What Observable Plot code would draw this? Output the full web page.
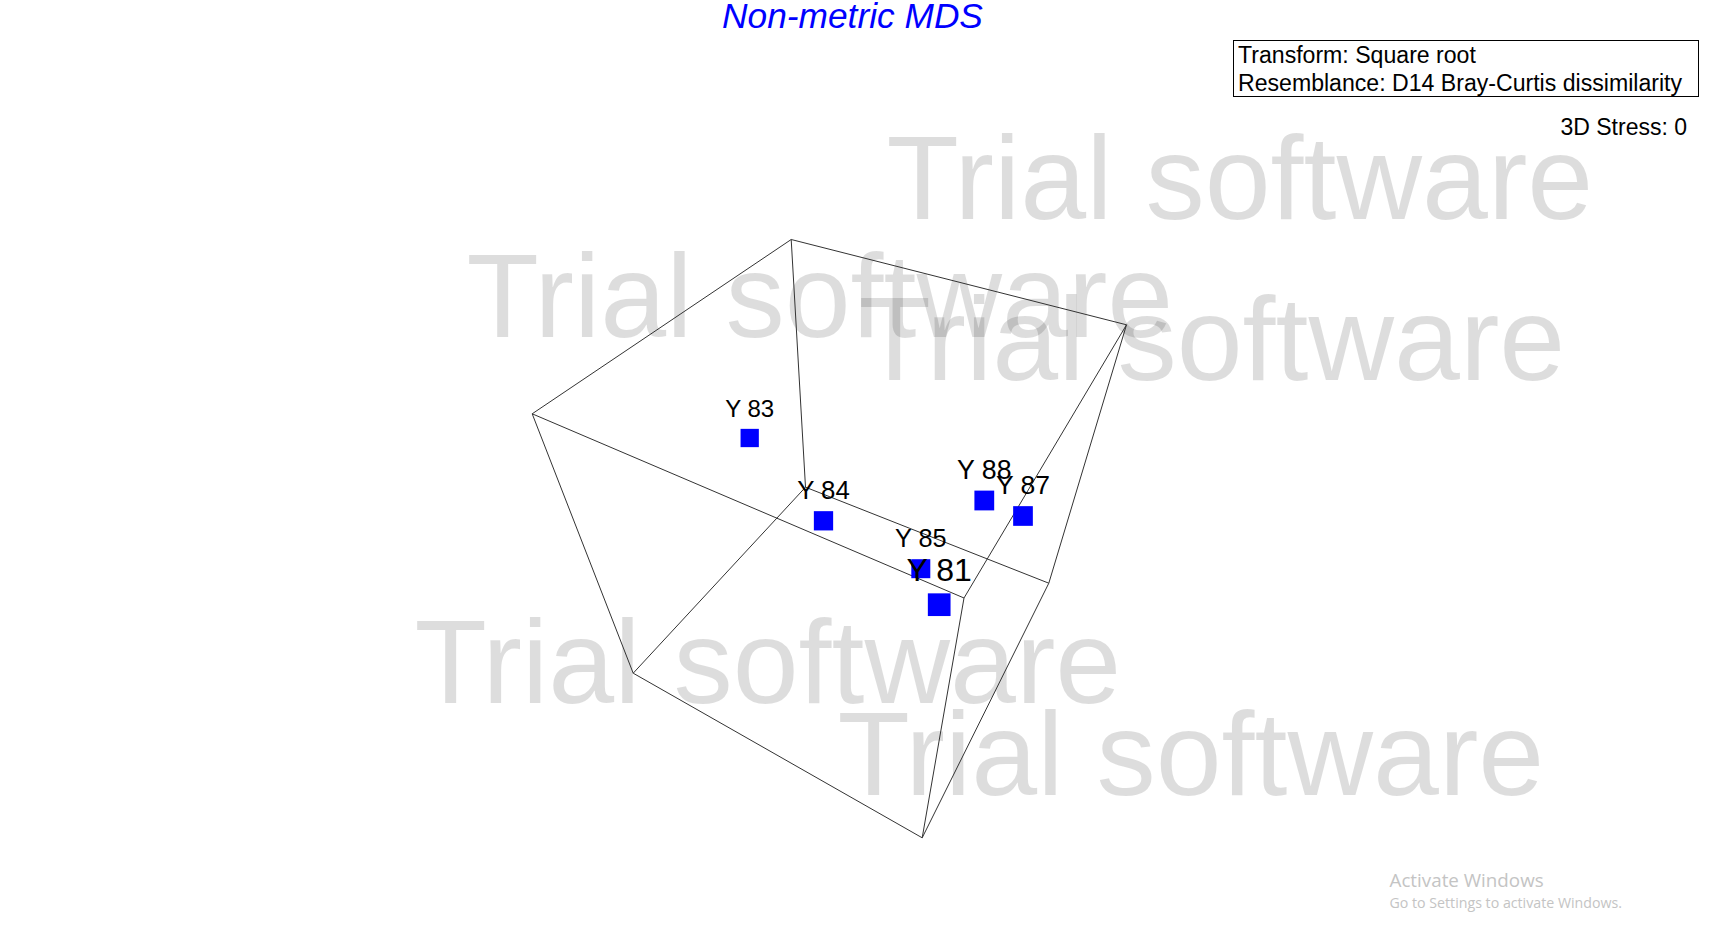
<!DOCTYPE html>
<html>
<head>
<meta charset="utf-8">
<script src="https://cdn.jsdelivr.net/npm/d3@7"></script>
<script src="https://cdn.jsdelivr.net/npm/@observablehq/plot@0.6"></script>
<style>
  html, body { margin: 0; padding: 0; background: #fff; overflow: hidden; }
  #wrap { position: relative; width: 1710px; height: 939px; }
  #box { position: absolute; left: 1233px; top: 40px; width: 466px; height: 57px;
         border: 1px solid #000; box-sizing: border-box; pointer-events: none; }
  svg { position: absolute; left: 0; top: 0; }
</style>
</head>
<body>
<div id="wrap"></div>
<script>
// ---- Data (projected MDS coordinates of the 3D ordination) ----
const samples = ["Y 81", "Y 83", "Y 84", "Y 85", "Y 87", "Y 88"];
const mds1 = [1.087, -0.808, -0.070, 0.903, 1.925, 1.538];   // horizontal (projected)
const mds2 = [-0.642, 1.025, 0.197, -0.282, 0.245, 0.400];   // vertical (projected)
const mds3 = [1.00, -1.00, -0.55, -0.68, -0.36, -0.32];       // depth toward viewer

// bounding cube of the 3D ordination, projected
const vertexNames = ["A", "B", "C", "D", "E", "G", "H", "I"];
const vertexX = [-0.393, 2.960, -2.983, -0.250, -1.973, 2.183, 1.335, 0.917];
const vertexY = [3.010, 2.157, 1.267, 0.533, -1.327, -0.427, -0.575, -2.973];
const edgeFrom = ["A", "A", "A", "C", "C", "H", "H", "B", "D", "D", "E", "G"];
const edgeTo   = ["B", "C", "D", "H", "E", "B", "I", "G", "G", "E", "I", "I"];

// texts
const titleText = "Non-metric MDS";
const infoLines = ["Transform: Square root", "Resemblance: D14 Bray-Curtis dissimilarity"];
const stressText = "3D Stress: 0";
const watermark = "Trial software";

// ---- Build tables ----
const points = samples.map((s, i) => ({label: s, x: mds1[i], y: mds2[i], z: mds3[i]}));
const vIndex = new Map(vertexNames.map((n, i) => [n, i]));
const edges = edgeFrom.map((f, i) => {
  const a = vIndex.get(f), b = vIndex.get(edgeTo[i]);
  return {x1: vertexX[a], y1: vertexY[a], x2: vertexX[b], y2: vertexY[b]};
});

// perspective: nearer samples drawn bigger
const depthDomain = [-1, 1];
const rRange = [10.32, 12.81];
const rByDepth = d3.scaleLinear(depthDomain, rRange);
const fontByDepth = d3.scaleLinear(depthDomain, [24, 32]);

const FONT = "'Liberation Sans', Arial, sans-serif";
const WFONT = "'Open Sans', 'Noto Sans', sans-serif";
const wm = (dx, dy) => Plot.text([watermark], {
  frameAnchor: "top-left", dx, dy, lineAnchor: "bottom", textAnchor: "start",
  fontSize: 118.5, fontFamily: FONT, fill: "#000", fillOpacity: 0.135
});
const note = (t, dx, dy, opts) => Plot.text([t], {frameAnchor: "top-left", dx, dy, lineAnchor: "bottom", ...opts});

// one label mark per sample so the gap above each square follows its size
const labelMarks = points.map(p => {
  const half = rByDepth(p.z) * Math.sqrt(Math.PI) / 2;
  const fs = fontByDepth(p.z);
  return Plot.text([p], {x: "x", y: "y", text: "label", dy: -(half + 11.6 + (fs - 24) * 0.15),
    lineAnchor: "bottom", textAnchor: "middle", fill: "#000", fontFamily: FONT, fontSize: fs});
});

const chart = Plot.plot({
  width: 1710,
  height: 939,
  margin: 0,
  x: {domain: [-8.30, 8.80], range: [0, 1710], axis: null},
  y: {domain: [-3.99, 5.40], range: [939, 0], axis: null},
  r: {type: "linear", domain: depthDomain, range: rRange},
  style: {background: "transparent", fontFamily: FONT},
  marks: [
    wm(886, 218.5),
    wm(466, 336.5),
    wm(858, 379),
    wm(414, 702.6),
    wm(837, 794),
    Plot.link(edges, {x1: "x1", y1: "y1", x2: "x2", y2: "y2", stroke: "#333", strokeWidth: 1}),
    Plot.dot(points, {x: "x", y: "y", r: "z", symbol: "square", fill: "#0000ff", stroke: "none"}),
    ...labelMarks,
    note(titleText, 852, 27.5, {textAnchor: "middle", fontSize: 35.3, fontStyle: "italic", fill: "#0000ff", fontFamily: FONT}),
    note(infoLines[0], 1237.5, 62, {textAnchor: "start", fontSize: 23.1, fill: "#000", fontFamily: FONT}),
    note(infoLines[1], 1237.5, 90.5, {textAnchor: "start", fontSize: 23.1, fill: "#000", fontFamily: FONT}),
    note(stressText, 1686.5, 134, {textAnchor: "end", fontSize: 23, fill: "#000", fontFamily: FONT}),
    note("Activate Windows", 1389, 886.5, {textAnchor: "start", fontSize: 18.8, fill: "#c4c4c4", fontFamily: WFONT}),
    note("Go to Settings to activate Windows.", 1389, 907, {textAnchor: "start", fontSize: 14.2, fill: "#c4c4c4", fontFamily: WFONT})
  ]
});

const wrap = document.getElementById("wrap");
wrap.appendChild(chart);
const box = document.createElement("div");
box.id = "box";
wrap.appendChild(box);
</script>
</body>
</html>
